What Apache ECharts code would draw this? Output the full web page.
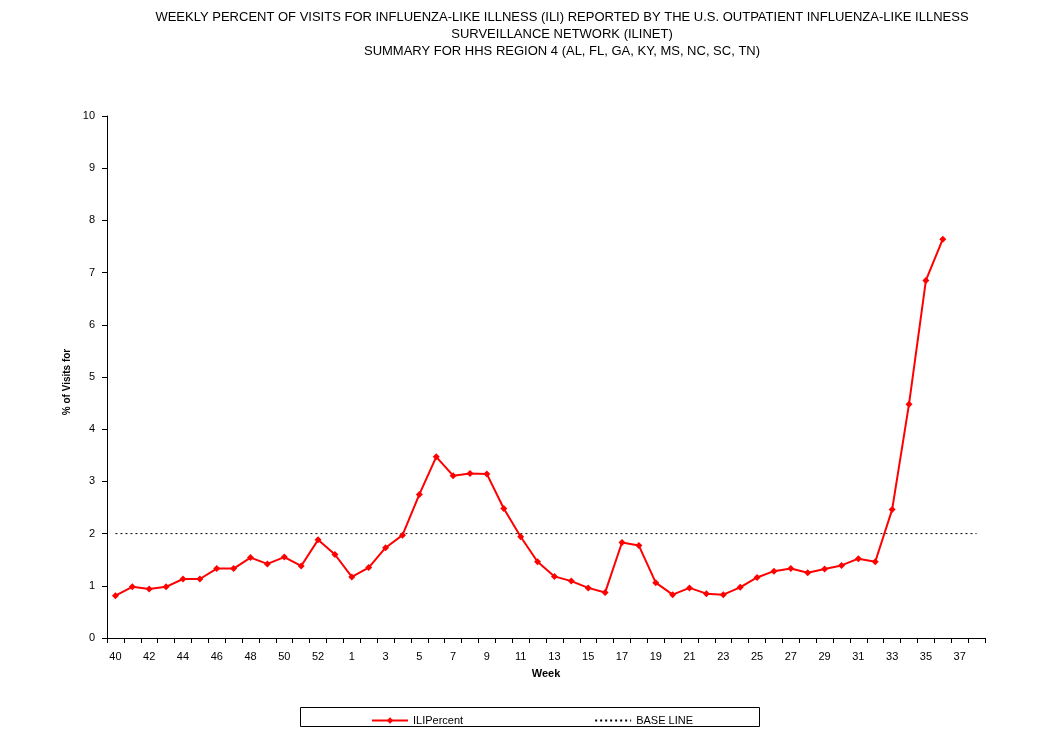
<!DOCTYPE html>
<html>
<head>
<meta charset="utf-8">
<script src="https://cdn.jsdelivr.net/npm/echarts@6/dist/echarts.min.js"></script>
<style>
html,body{margin:0;padding:0;background:#fff;}
#main{width:1061px;height:734px;}
</style>
</head>
<body>
<div id="main"></div>
<script>
// weeks of the season, 40..53 then 1..38
var weeks = ['40','41','42','43','44','45','46','47','48','49','50','51','52','53',
	'1','2','3','4','5','6','7','8','9','10','11','12','13','14','15','16','17','18','19','20',
	'21','22','23','24','25','26','27','28','29','30','31','32','33','34','35','36','37','38'];

var iliPercent = [0.81,0.98,0.94,0.98,1.13,1.13,1.33,1.33,1.54,1.42,1.55,1.38,1.88,1.60,
	1.17,1.35,1.73,1.97,2.75,3.47,3.11,3.15,3.14,2.48,1.94,1.46,1.18,1.09,0.96,0.87,1.83,1.77,1.06,0.83,
	0.96,0.85,0.83,0.97,1.16,1.28,1.33,1.25,1.32,1.39,1.52,1.46,2.46,4.48,6.85,7.64,null,null];

var baseLine = 2.0;
var yTicks = [0,1,2,3,4,5,6,7,8,9,10];

var titleText = 'WEEKLY PERCENT OF VISITS FOR INFLUENZA-LIKE ILLNESS (ILI) REPORTED BY THE U.S. OUTPATIENT INFLUENZA-LIKE ILLNESS\n' +
	'SURVEILLANCE NETWORK (ILINET)\n' +
	'SUMMARY FOR HHS REGION 4 (AL, FL, GA, KY, MS, NC, SC, TN)';

var font = 'Liberation Sans, Arial, sans-serif';

var myChart = echarts.init(document.getElementById('main'));

var option = {
	backgroundColor: '#fff',
	animation: false,
	title: {
		text: titleText,
		left: 557,
		top: 4,
		textAlign: 'center',
		textStyle: {
			fontFamily: font,
			fontSize: 13,
			fontWeight: 'normal',
			color: '#000',
			lineHeight: 17
		}
	},
	legend: {
		left: 366,
		top: 710,
		itemWidth: 36,
		itemHeight: 8,
		itemGap: 131,
		textStyle: { fontFamily: font, fontSize: 11, color: '#000' },
		data: ['ILIPercent', {
			name: 'BASE LINE',
			itemStyle: { color: 'transparent', borderWidth: 0 }
		}]
	},
	graphic: [{
		type: 'rect',
		shape: { x: 300.5, y: 707.5, width: 459, height: 19 },
		style: { fill: 'none', stroke: '#000', lineWidth: 1 }
	}],
	grid: {
		left: 107,
		top: 116,
		right: 76,
		bottom: 96
	},
	xAxis: {
		type: 'category',
		data: weeks,
		boundaryGap: true,
		name: 'Week',
		nameLocation: 'middle',
		nameGap: 30,
		nameTextStyle: { fontFamily: font, fontSize: 11, fontWeight: 'bold', color: '#000' },
		axisLine: { lineStyle: { color: '#000', width: 1 } },
		axisTick: { show: true, interval: 0, length: 5, lineStyle: { color: '#000' } },
		axisLabel: { interval: 1, fontFamily: font, fontSize: 11, color: '#000', margin: 13 },
		splitLine: { show: false }
	},
	yAxis: {
		type: 'value',
		min: yTicks[0],
		max: yTicks[yTicks.length - 1],
		interval: 1,
		name: '% of Visits for',
		nameLocation: 'middle',
		nameGap: 29,
		nameTextStyle: { fontFamily: font, fontSize: 10, fontWeight: 'bold', color: '#000', padding: [0, 0, 0, -10] },
		axisLine: { show: true, lineStyle: { color: '#000', width: 1 } },
		axisTick: { show: true, length: 5, lineStyle: { color: '#000' } },
		axisLabel: { fontFamily: font, fontSize: 11, color: '#000', margin: 12 },
		splitLine: { show: false }
	},
	series: [{
		name: 'ILIPercent',
		type: 'line',
		data: iliPercent,
		symbol: 'diamond',
		symbolSize: 7,
		itemStyle: { color: '#ff0000' },
		lineStyle: { color: '#ff0000', width: 2 },
		connectNulls: false
	}, {
		name: 'BASE LINE',
		type: 'line',
		data: weeks.map(function () { return baseLine; }),
		symbol: 'none',
		itemStyle: { color: '#000' },
		lineStyle: { color: '#000', width: 1, type: [2, 3] }
	}]
};

myChart.setOption(option);
</script>
</body>
</html>
